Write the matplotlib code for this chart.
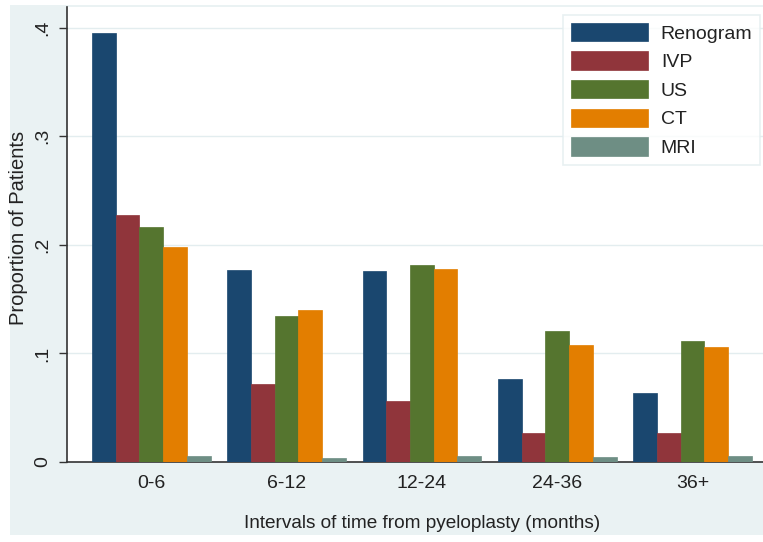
import numpy as np
import matplotlib
matplotlib.use("Agg")
import matplotlib.pyplot as plt
from matplotlib.patches import Rectangle

plt.rcParams['font.family'] = ['Liberation Sans', 'DejaVu Sans']

# data
intervals = ['0-6', '6-12', '12-24', '24-36', '36+']
series = ['Renogram', 'IVP', 'US', 'CT', 'MRI']
renogram = [0.395, 0.177, 0.176, 0.076, 0.064]
ivp = [0.227, 0.072, 0.056, 0.027, 0.027]
us = [0.216, 0.134, 0.181, 0.121, 0.111]
ct = [0.198, 0.140, 0.178, 0.108, 0.106]
mri = [0.0055, 0.0035, 0.0055, 0.0045, 0.0055]
yticks = [0, 0.1, 0.2, 0.3, 0.4]
ytick_labels = ['0', '.1', '.2', '.3', '.4']

colors = ['#1A476F', '#90353B', '#55752F', '#E37E00', '#6E8E84']
panel_bg = '#EAF2F3'
txt = '#222222'

fig = plt.figure(figsize=(7.63, 5.42), dpi=100)
fig.patch.set_facecolor('white')

# stata-like outer panel
bg = Rectangle((10 / 763, 7 / 542), 753 / 763, 530 / 542,
               transform=fig.transFigure, facecolor=panel_bg,
               edgecolor='none', zorder=-10)
fig.add_artist(bg)

# axes: x 67..763 px, y 7..462 px (from top)
ax = fig.add_axes([67 / 763, 80 / 542, 696 / 763, 455 / 542])
ax.set_zorder(1)
ax.set_facecolor('white')

x = np.arange(len(intervals))
width = 0.175
all_vals = [renogram, ivp, us, ct, mri]
for k, (name, vals) in enumerate(zip(series, all_vals)):
    offs = (k - 2) * width
    ax.bar(x + offs, vals, width, color=colors[k], label=name,
           edgecolor=colors[k], linewidth=0.5, zorder=3)

ax.set_xlim(-0.623, 4.52)
ax.set_ylim(0, 0.419)

ax.set_yticks(yticks)
ax.set_yticklabels(ytick_labels, rotation=90, va='center', fontsize=14,
                   color=txt)
ax.set_xticks(x)
ax.set_xticklabels(intervals, fontsize=14, color=txt)
ax.tick_params(axis='x', length=0, pad=9)
ax.tick_params(axis='y', length=5.5, width=1, color='#333333', pad=6)

for yv in yticks[1:]:
    ax.axhline(yv, color='#E3EDEF', linewidth=1, zorder=1)

for s in ['top', 'right']:
    ax.spines[s].set_visible(False)
ax.spines['left'].set_color('#333333')
ax.spines['bottom'].set_color('#333333')
ax.spines['left'].set_linewidth(1.2)
ax.spines['bottom'].set_linewidth(1.2)

ax.set_ylabel('Proportion of Patients', fontsize=14.5, color=txt)
ax.yaxis.set_label_coords((19 - 67) / 696, (462 - 228) / 455)
ax.set_xlabel('Intervals of time from pyeloplasty (months)', fontsize=13.7,
              color=txt)
ax.xaxis.set_label_coords((422 - 67) / 696, (462 - 523) / 455)
ax.xaxis.label.set_va('center')
ax.yaxis.label.set_va('center')

leg = ax.legend(loc='upper left', bbox_to_anchor=(563 / 763, 1 - 15 / 542),
                bbox_transform=fig.transFigure, fontsize=14, frameon=True,
                fancybox=False, handlelength=3.96, handleheight=1.08,
                labelspacing=0.45, borderpad=0.4, handletextpad=0.67,
                borderaxespad=0)
leg.get_frame().set_edgecolor('#E3EDEF')
leg.get_frame().set_linewidth(1.2)
for t in leg.get_texts():
    t.set_color(txt)

fig.savefig('out.png', dpi=100)
